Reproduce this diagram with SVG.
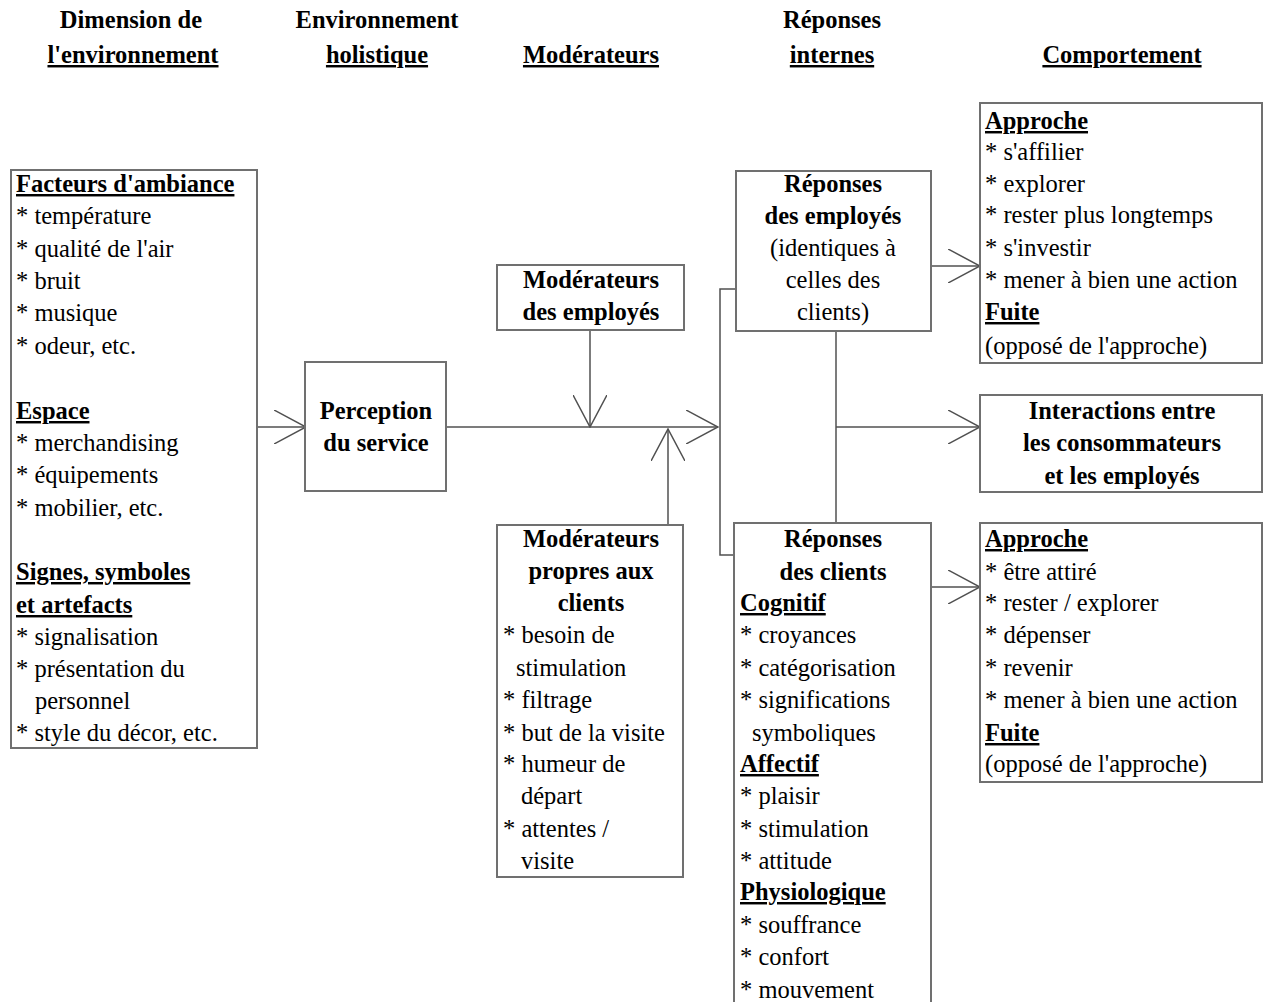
<svg xmlns="http://www.w3.org/2000/svg" width="1265" height="1002" viewBox="0 0 1265 1002">
<style>
.t{font-family:"Liberation Serif","Times New Roman","DejaVu Serif",serif;font-size:24.5px;fill:#000}
.b{font-weight:bold}
.u{text-decoration:underline}
.c{text-anchor:middle}
.box{fill:#fff;stroke:#707070;stroke-width:2}
.ln{stroke:#505050;stroke-width:1.5;fill:none}
</style>
<defs>
<marker id="v" viewBox="0 0 33 34" markerWidth="33" markerHeight="34" refX="32" refY="17" orient="auto" markerUnits="userSpaceOnUse">
<path d="M0,0 L32,17 L0,34" fill="none" stroke="#505050" stroke-width="1.5"/>
</marker>
</defs>
<rect width="1265" height="1002" fill="#fff"/>

<g id="headers" class="t b c">
<text x="131" y="28">Dimension de</text>
<text x="133" y="63" class="u">l'environnement</text>
<text x="377" y="28">Environnement</text>
<text x="377" y="63" class="u">holistique</text>
<text x="591" y="63" class="u">Modérateurs</text>
<text x="832" y="28">Réponses</text>
<text x="832" y="63" class="u">internes</text>
<text x="1122" y="63" class="u">Comportement</text>
</g>

<g id="connectors">
<path class="ln" d="M257,427 H306" marker-end="url(#v)"/>
<path class="ln" d="M446,427 H718" marker-end="url(#v)"/>
<path class="ln" d="M590,330 V427" marker-end="url(#v)"/>
<path class="ln" d="M668,525 V429" marker-end="url(#v)"/>
<path class="ln" d="M736,289 H720 V555 H734"/>
<path class="ln" d="M931,266 H980" marker-end="url(#v)"/>
<path class="ln" d="M836,331 V523"/>
<path class="ln" d="M836,427 H980" marker-end="url(#v)"/>
<path class="ln" d="M931,587 H980" marker-end="url(#v)"/>
</g>

<g id="dimension">
<rect class="box" x="11" y="170" width="246" height="578"/>
<g class="t">
<text x="16" y="192" class="b u">Facteurs d'ambiance</text>
<text x="16" y="224">* température</text>
<text x="16" y="257">* qualité de l'air</text>
<text x="16" y="289">* bruit</text>
<text x="16" y="321">* musique</text>
<text x="16" y="354">* odeur, etc.</text>
<text x="16" y="419" class="b u">Espace</text>
<text x="16" y="451">* merchandising</text>
<text x="16" y="483">* équipements</text>
<text x="16" y="516">* mobilier, etc.</text>
<text x="16" y="580" class="b u">Signes, symboles</text>
<text x="16" y="613" class="b u">et artefacts</text>
<text x="16" y="645">* signalisation</text>
<text x="16" y="677">* présentation du</text>
<text x="35" y="709">personnel</text>
<text x="16" y="741">* style du décor, etc.</text>
</g>
</g>

<g id="perception">
<rect class="box" x="305" y="362" width="141" height="129"/>
<g class="t b c">
<text x="376" y="419">Perception</text>
<text x="376" y="451">du service</text>
</g>
</g>

<g id="mod-employes">
<rect class="box" x="497" y="265" width="187" height="65"/>
<g class="t b c">
<text x="591" y="288">Modérateurs</text>
<text x="591" y="320">des employés</text>
</g>
</g>

<g id="mod-clients">
<rect class="box" x="497" y="525" width="186" height="352"/>
<g class="t">
<text x="591" y="547" class="b c">Modérateurs</text>
<text x="591" y="579" class="b c">propres aux</text>
<text x="591" y="611" class="b c">clients</text>
<text x="503" y="643">* besoin de</text>
<text x="516" y="676">stimulation</text>
<text x="503" y="708">* filtrage</text>
<text x="503" y="741">* but de la visite</text>
<text x="503" y="772">* humeur de</text>
<text x="521" y="804">départ</text>
<text x="503" y="837">* attentes /</text>
<text x="521" y="869">visite</text>
</g>
</g>

<g id="rep-employes">
<rect class="box" x="736" y="171" width="195" height="160"/>
<g class="t c">
<text x="833" y="192" class="b">Réponses</text>
<text x="833" y="224" class="b">des employés</text>
<text x="833" y="256">(identiques à</text>
<text x="833" y="288">celles des</text>
<text x="833" y="320">clients)</text>
</g>
</g>

<g id="rep-clients">
<rect class="box" x="734" y="523" width="197" height="490"/>
<g class="t">
<text x="833" y="547" class="b c">Réponses</text>
<text x="833" y="580" class="b c">des clients</text>
<text x="740" y="611" class="b u">Cognitif</text>
<text x="740" y="643">* croyances</text>
<text x="740" y="676">* catégorisation</text>
<text x="740" y="708">* significations</text>
<text x="752" y="741">symboliques</text>
<text x="740" y="772" class="b u">Affectif</text>
<text x="740" y="804">* plaisir</text>
<text x="740" y="837">* stimulation</text>
<text x="740" y="869">* attitude</text>
<text x="740" y="900" class="b u">Physiologique</text>
<text x="740" y="933">* souffrance</text>
<text x="740" y="965">* confort</text>
<text x="740" y="998">* mouvement</text>
</g>
</g>

<g id="approche-employes">
<rect class="box" x="980" y="103" width="282" height="260"/>
<g class="t">
<text x="985" y="129" class="b u">Approche</text>
<text x="985" y="160">* s'affilier</text>
<text x="985" y="192">* explorer</text>
<text x="985" y="223">* rester plus longtemps</text>
<text x="985" y="256">* s'investir</text>
<text x="985" y="288">* mener à bien une action</text>
<text x="985" y="320" class="b u">Fuite</text>
<text x="985" y="354">(opposé de l'approche)</text>
</g>
</g>

<g id="interactions">
<rect class="box" x="980" y="395" width="282" height="97"/>
<g class="t b c">
<text x="1122" y="419">Interactions entre</text>
<text x="1122" y="451">les consommateurs</text>
<text x="1122" y="484">et les employés</text>
</g>
</g>

<g id="approche-clients">
<rect class="box" x="980" y="523" width="282" height="259"/>
<g class="t">
<text x="985" y="547" class="b u">Approche</text>
<text x="985" y="580">* être attiré</text>
<text x="985" y="611">* rester / explorer</text>
<text x="985" y="643">* dépenser</text>
<text x="985" y="676">* revenir</text>
<text x="985" y="708">* mener à bien une action</text>
<text x="985" y="741" class="b u">Fuite</text>
<text x="985" y="772">(opposé de l'approche)</text>
</g>
</g>
</svg>
